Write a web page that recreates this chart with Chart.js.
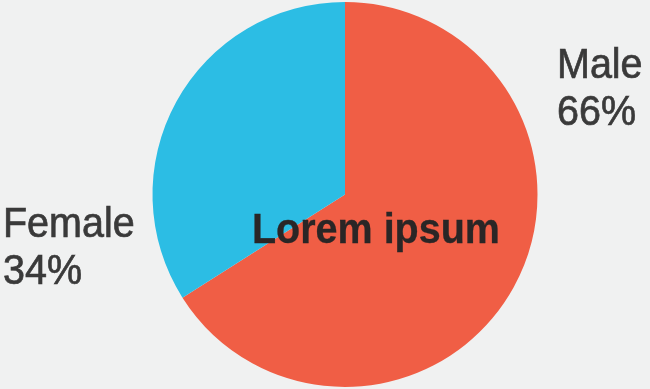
<!DOCTYPE html>
<html>
<head>
<meta charset="utf-8">
<script src="https://cdn.jsdelivr.net/npm/chart.js@4/dist/chart.umd.min.js"></script>
<style>
    html, body { margin: 0; padding: 0; background: #f0f1f1; }
    #wrap { width: 650px; height: 389px; }
</style>
</head>
<body>
<div id="wrap"><canvas id="genderChart"></canvas></div>
<script>
const labels = ['Male', 'Female'];
const shares = [66, 34];
const colors = ['#f05e45', '#2cbde4'];
const centerText = 'Lorem ipsum';

// label anchors (left x, first baseline y) for each slice's caption
const labelAnchors = [
    { x: 557, y: 78 },
    { x: 3, y: 237 }
];

// fillText with a slight horizontal squeeze, the font is a bit narrower than Arial
function squeezedText(ctx, text, x, y, sx) {
    ctx.save();
    ctx.translate(x, y);
    ctx.scale(sx, 1);
    ctx.fillText(text, 0, 0);
    ctx.strokeText(text, 0, 0);
    ctx.restore();
}

const sliceLabels = {
    id: 'sliceLabels',
    afterDraw(chart) {
        const ctx = chart.ctx;
        ctx.save();
        ctx.textAlign = 'left';
        ctx.textBaseline = 'alphabetic';
        ctx.fillStyle = '#3a3a3a';
        ctx.strokeStyle = '#3a3a3a';
        ctx.lineWidth = 0.7;
        ctx.font = '42px "Liberation Sans", Arial, sans-serif';
        labels.forEach((name, i) => {
            const a = labelAnchors[i];
            squeezedText(ctx, name, a.x, a.y, 0.94);
            squeezedText(ctx, shares[i] + '%', a.x, a.y + 47, 0.94);
        });

        // caption over the middle of the pie
        const arc = chart.getDatasetMeta(0).data[0];
        ctx.fillStyle = '#2a2626';
        ctx.strokeStyle = '#2a2626';
        ctx.lineWidth = 0.3;
        ctx.font = 'bold 42px "Liberation Sans", Arial, sans-serif';
        squeezedText(ctx, centerText, arc.x - 93, arc.y + 48, 0.94);
        ctx.restore();
    }
};

new Chart(document.getElementById('genderChart').getContext('2d'), {
    type: 'pie',
    data: {
        labels: labels,
        datasets: [{
            data: shares,
            backgroundColor: colors,
            borderWidth: 0
        }]
    },
    options: {
        responsive: true,
        maintainAspectRatio: false,
        animation: false,
        layout: {
            padding: { left: 152, right: 112, top: 2, bottom: 2 }
        },
        plugins: {
            legend: { display: false },
            tooltip: { enabled: false }
        }
    },
    plugins: [sliceLabels]
});
</script>
</body>
</html>
